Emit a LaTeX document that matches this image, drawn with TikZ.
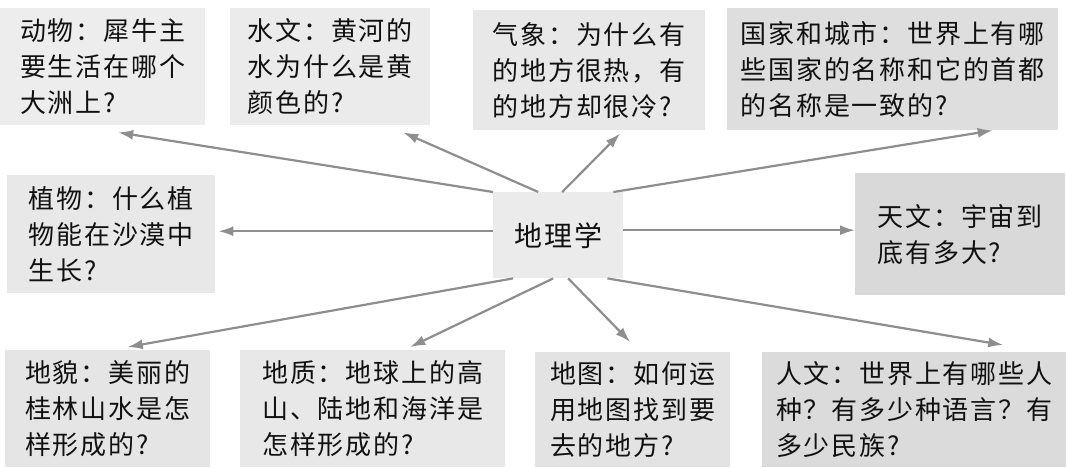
\documentclass[tikz,border=0pt]{standalone}
\usepackage{fontspec}
\newfontfamily\cjk[LetterSpace=7]{Noto Sans CJK SC}
\usetikzlibrary{arrows.meta}
\definecolor{txt}{HTML}{111111}
\definecolor{arrcol}{HTML}{8E8E8E}
\tikzset{
  qbox/.style={anchor=north west, inner sep=0pt, align=left, text=txt,
    font=\cjk\fontsize{26}{36}\selectfont},
  arr/.style={draw=arrcol, line width=2.2pt,
    -{Latex[length=15pt,width=10pt]}, fill=arrcol}
}
\begin{document}
\begin{tikzpicture}[x=1pt,y=-1pt]
\useasboundingbox (0,0) rectangle (1066,467);
\fill[white] (0,0) rectangle (1066,467);
% question boxes
\node[qbox, fill=black!7, minimum width=205pt, minimum height=117pt] (dw) at (0,8)
  {动物：犀牛主\\要生活在哪个\\大洲上?};
\node[qbox, fill=black!8, minimum width=200pt, minimum height=117pt] (sw) at (230,8)
  {水文：黄河的\\水为什么是黄\\颜色的?};
\node[qbox, fill=black!9, minimum width=232pt, minimum height=120pt] (qx) at (473,10)
  {气象：为什么有\\的地方很热，有\\的地方却很冷?};
\node[qbox, fill=black!13, minimum width=331pt, minimum height=122pt] (gj) at (727,8)
  {国家和城市：世界上有哪\\些国家的名称和它的首都\\的名称是一致的?};
\node[qbox, fill=black!9, minimum width=208pt, minimum height=118pt] (zw) at (7,175)
  {植物：什么植\\物能在沙漠中\\生长?};
\node[qbox, fill=black!15, minimum width=210pt, minimum height=122pt] (tw) at (855,173)
  {天文：宇宙到\\底有多大?};
\node[qbox, fill=black!10, minimum width=205pt, minimum height=117pt] (dm) at (5,350)
  {地貌：美丽的\\桂林山水是怎\\样形成的?};
\node[qbox, fill=black!9, minimum width=265pt, minimum height=117pt] (dz) at (240,350)
  {地质：地球上的高\\山、陆地和海洋是\\怎样形成的?};
\node[qbox, fill=black!11, minimum width=195pt, minimum height=115pt] (dt) at (535,352)
  {地图：如何运\\用地图找到要\\去的地方?};
\node[qbox, fill=black!14, minimum width=304pt, minimum height=115pt] (rw) at (762,352)
  {人文：世界上有哪些人\\种？有多少种语言？有\\多少民族?};
% centre
\node[qbox, fill=black!8, minimum width=130pt, minimum height=86pt,
  font=\cjk\fontsize{28}{36}\selectfont] (c) at (493,192) {地理学};
% arrows
\draw[arr] (c.north west) -- ([xshift=15.5pt,yshift=-7pt]dw.south);
\draw[arr] ([xshift=-20pt]c.north) -- ([xshift=73pt,yshift=-7pt]sw.south);
\draw[arr] ([xshift=4pt]c.north) -- ([xshift=31pt,yshift=-3pt]qx.south);
\draw[arr] ([xshift=-10pt]c.north east) -- ([xshift=100pt]gj.south);
\draw[arr] ([yshift=4pt]c.west) -- ([xshift=3pt,yshift=3pt]zw.east);
\draw[arr] ([yshift=5pt]c.east) -- ([yshift=4pt]tw.west);
\draw[arr] ([xshift=20pt]c.south west) -- ([xshift=20pt,yshift=3pt]dm.north);
\draw[arr] ([xshift=-5pt]c.south) -- ([xshift=37.5pt,yshift=3pt]dz.north);
\draw[arr] ([xshift=10pt]c.south) -- ([xshift=-2.5pt,yshift=10pt]dt.north);
\draw[arr] ([xshift=-16pt]c.south east) -- ([xshift=89pt,yshift=7pt]rw.north);
\end{tikzpicture}
\end{document}
